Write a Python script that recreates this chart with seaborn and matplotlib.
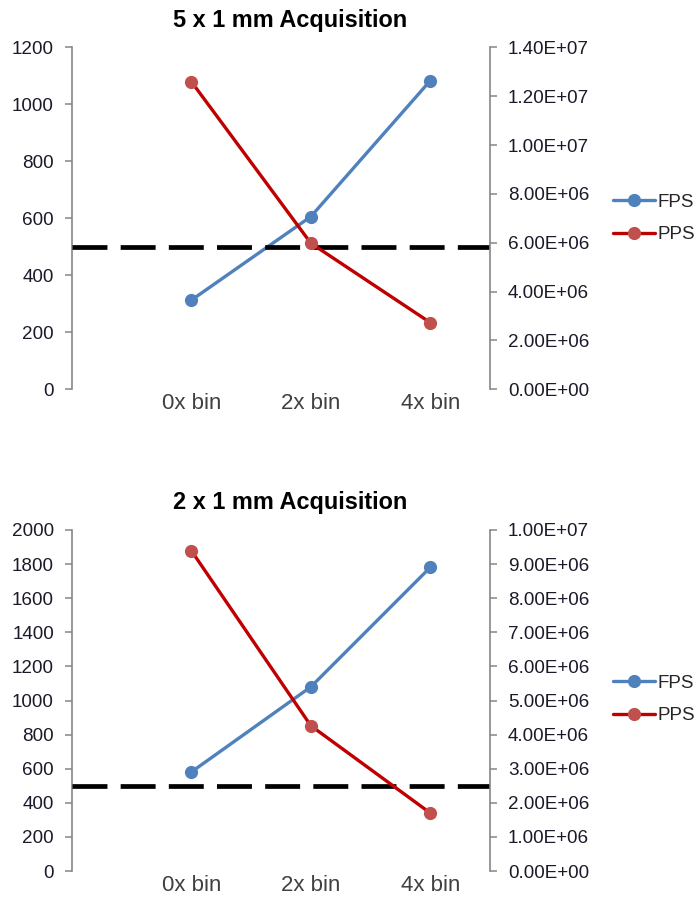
import numpy as np
import pandas as pd
import matplotlib
matplotlib.use("Agg")
import matplotlib.pyplot as plt
from matplotlib.ticker import FuncFormatter, MultipleLocator
import seaborn as sns

# ---- data ----
categories = ["0x bin", "2x bin", "4x bin"]
titles = ["5 x 1 mm Acquisition", "2 x 1 mm Acquisition"]
fps_5x1 = [313, 606, 1083]
pps_5x1 = [1.259e7, 5.98e6, 2.73e6]
fps_2x1 = [581, 1080, 1781]
pps_2x1 = [9.39e6, 4.26e6, 1.70e6]
threshold = 500
left_max = [1200, 2000]
left_step = [200, 200]
right_max = [1.4e7, 1.0e7]
right_step = [2e6, 1e6]

sns.set_style("white")
plt.rcParams["font.family"] = ["Liberation Sans", "DejaVu Sans"]

BLUE = "#4F81BD"
RED_LINE = "#C00000"
RED_MK = "#C0504D"
SPINE = "#868686"

fig = plt.figure(figsize=(7.0, 9.11), dpi=100)

axes_rects = [
    [72 / 700, 1 - 389.3 / 911, 418 / 700, 342 / 911],
    [72 / 700, 1 - 871 / 911, 418 / 700, 341 / 911],
]
title_y = [1 - 21 / 911, 1 - 503 / 911]
legend_y = [1 - 218.5 / 911, 1 - 699.5 / 911]

datasets = [(fps_5x1, pps_5x1), (fps_2x1, pps_2x1)]

for i, (fps, pps) in enumerate(datasets):
    df = pd.DataFrame({"bin": categories, "FPS": fps, "PPS": pps})
    ax = fig.add_axes(axes_rects[i])
    ax2 = ax.twinx()

    sns.lineplot(data=df, x="bin", y="FPS", ax=ax, color=BLUE, lw=2.4,
                 marker="o", markersize=9.5, markeredgewidth=0,
                 markerfacecolor=BLUE, label="FPS", legend=False, sort=False)
    sns.lineplot(data=df, x="bin", y="PPS", ax=ax2, color=RED_LINE, lw=2.4,
                 marker="o", markersize=9.5, markeredgewidth=0,
                 markerfacecolor=RED_MK, label="PPS", legend=False, sort=False)

    ax.axhline(threshold, color="black", lw=3.4, dashes=(7.4, 2.8), zorder=5)

    ax.set_xlim(-1.0, 2.5)
    ax.set_ylim(0, left_max[i])
    ax2.set_ylim(0, right_max[i])
    ax.yaxis.set_major_locator(MultipleLocator(left_step[i]))
    ax2.yaxis.set_major_locator(MultipleLocator(right_step[i]))
    ax2.yaxis.set_major_formatter(FuncFormatter(lambda v, p: f"{v:.2E}"))

    ax.set_xlabel("")
    ax.set_ylabel("")
    ax2.set_ylabel("")

    for a in (ax, ax2):
        a.set_facecolor("none")
        for s in ("top", "bottom"):
            a.spines[s].set_visible(False)
        a.spines["left"].set_visible(a is ax)
        a.spines["right"].set_visible(a is ax2)
        a.spines["left"].set_color(SPINE)
        a.spines["right"].set_color(SPINE)
        a.spines["left"].set_linewidth(1.2)
        a.spines["right"].set_linewidth(1.2)
    ax.grid(False)
    ax2.grid(False)

    ax.tick_params(axis="y", left=True, length=5, width=1.1, color=SPINE,
                   labelsize=13.6, labelcolor="#1a1a2a", pad=8)
    ax2.tick_params(axis="y", right=True, length=5, width=1.1, color=SPINE,
                    labelsize=13.6, labelcolor="#1a1a2a", pad=8)
    ax.tick_params(axis="x", bottom=False, length=0, labelsize=16,
                   labelcolor="#404040", pad=3)

    fig.text(290.5 / 700, title_y[i], titles[i], ha="center", va="center",
             fontsize=16.9, fontweight="bold", color="black")

    h1, l1 = ax.get_legend_handles_labels()
    h2, l2 = ax2.get_legend_handles_labels()
    fig.legend(h1 + h2, l1 + l2, loc="center left",
               bbox_to_anchor=(613 / 700, legend_y[i]), frameon=False,
               fontsize=13.5, handlelength=2.26, handletextpad=0.1,
               labelspacing=0.8, borderaxespad=0, borderpad=0)

fig.savefig("out.png", dpi=100, facecolor="white")
